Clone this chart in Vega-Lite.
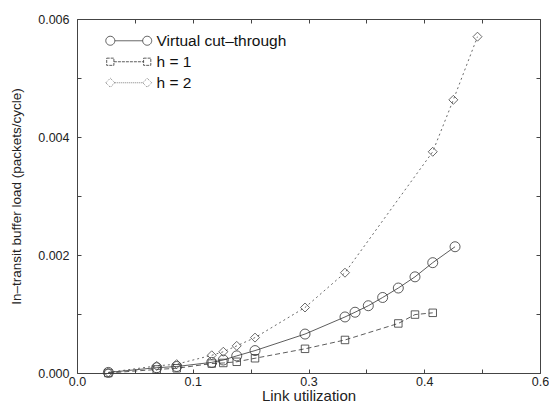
{
  "$schema": "https://vega.github.io/schema/vega-lite/v6.json",
  "width": 463,
  "height": 354,
  "autosize": {"type": "none"},
  "padding": {"left": 77, "top": 19, "right": 9, "bottom": 32},
  "background": "white",
  "config": {
    "view": {"stroke": "#444", "strokeWidth": 1},
    "font": "Liberation Sans",
    "axis": {"grid": false, "domain": false, "tickColor": "#444", "tickSize": -4, "labelFlush": false, "labelColor": "#222", "titleColor": "#222", "labelFont": "Liberation Sans", "titleFont": "Liberation Sans", "titleFontWeight": "normal"}
  },
  "data": {
    "values": [
      {"s": "Virtual cut–through", "x": 0.0406, "y": 0.00001},
      {"s": "Virtual cut–through", "x": 0.1033, "y": 0.00009},
      {"s": "Virtual cut–through", "x": 0.1292, "y": 0.00011},
      {"s": "Virtual cut–through", "x": 0.1746, "y": 0.00018},
      {"s": "Virtual cut–through", "x": 0.1896, "y": 0.00022},
      {"s": "Virtual cut–through", "x": 0.207, "y": 0.00029},
      {"s": "Virtual cut–through", "x": 0.2307, "y": 0.00038},
      {"s": "Virtual cut–through", "x": 0.2955, "y": 0.00066},
      {"s": "Virtual cut–through", "x": 0.3473, "y": 0.00095},
      {"s": "Virtual cut–through", "x": 0.3603, "y": 0.00103},
      {"s": "Virtual cut–through", "x": 0.3775, "y": 0.00114},
      {"s": "Virtual cut–through", "x": 0.3961, "y": 0.00128},
      {"s": "Virtual cut–through", "x": 0.4164, "y": 0.00144},
      {"s": "Virtual cut–through", "x": 0.438, "y": 0.00163},
      {"s": "Virtual cut–through", "x": 0.461, "y": 0.00187},
      {"s": "Virtual cut–through", "x": 0.4899, "y": 0.00214},
      {"s": "h = 1", "x": 0.0406, "y": 0.0},
      {"s": "h = 1", "x": 0.1033, "y": 0.00006},
      {"s": "h = 1", "x": 0.1292, "y": 0.00008},
      {"s": "h = 1", "x": 0.1746, "y": 0.00016},
      {"s": "h = 1", "x": 0.1896, "y": 0.00017},
      {"s": "h = 1", "x": 0.207, "y": 0.00019},
      {"s": "h = 1", "x": 0.2307, "y": 0.00025},
      {"s": "h = 1", "x": 0.2955, "y": 0.00041},
      {"s": "h = 1", "x": 0.3473, "y": 0.00056},
      {"s": "h = 1", "x": 0.4164, "y": 0.00084},
      {"s": "h = 1", "x": 0.438, "y": 0.00099},
      {"s": "h = 1", "x": 0.461, "y": 0.00102},
      {"s": "h = 2", "x": 0.0406, "y": 0.00001},
      {"s": "h = 2", "x": 0.1033, "y": 0.00012},
      {"s": "h = 2", "x": 0.1292, "y": 0.00015},
      {"s": "h = 2", "x": 0.1746, "y": 0.0003},
      {"s": "h = 2", "x": 0.1896, "y": 0.00036},
      {"s": "h = 2", "x": 0.207, "y": 0.00046},
      {"s": "h = 2", "x": 0.2307, "y": 0.0006},
      {"s": "h = 2", "x": 0.2955, "y": 0.00111},
      {"s": "h = 2", "x": 0.3473, "y": 0.0017},
      {"s": "h = 2", "x": 0.461, "y": 0.00375},
      {"s": "h = 2", "x": 0.4877, "y": 0.00463},
      {"s": "h = 2", "x": 0.519, "y": 0.0057}
    ]
  },
  "layer": [
    {
      "transform": [{"filter": "datum.s == 'Virtual cut–through'"}],
      "mark": {"type": "line", "stroke": "#333", "strokeWidth": 0.8},
      "encoding": {
        "x": {"field": "x", "type": "quantitative", "scale": {"domain": [0, 0.6], "nice": false},
          "axis": {"orient": "bottom", "values": [0, 0.075, 0.15, 0.225, 0.3, 0.375, 0.45, 0.525, 0.6],
            "labelExpr": "datum.value == 0 ? '0.0' : datum.value == 0.15 ? '0.1' : datum.value == 0.3 ? '0.3' : datum.value == 0.45 ? '0.4' : datum.value == 0.6 ? '0.6' : ''",
            "labelFontSize": 12.5, "labelPadding": 6, "title": "Link utilization", "titleFontSize": 15, "titlePadding": 1}},
        "y": {"field": "y", "type": "quantitative", "scale": {"domain": [0, 0.006], "nice": false},
          "axis": {"orient": "left", "values": [0, 0.001, 0.002, 0.003, 0.004, 0.005, 0.006],
            "labelExpr": "indexof([0, 0.002, 0.004, 0.006], datum.value) >= 0 ? format(datum.value, '.3f') : ''",
            "labelFontSize": 12.5, "labelPadding": 12, "title": "In–transit buffer load (packets/cycle)", "titleFontSize": 13.5, "titlePadding": 14}}
      }
    },
    {
      "transform": [{"filter": "datum.s == 'h = 1'"}],
      "mark": {"type": "line", "stroke": "#333", "strokeWidth": 0.8, "strokeDash": [5, 3]},
      "encoding": {
        "x": {"field": "x", "type": "quantitative", "axis": null},
        "y": {"field": "y", "type": "quantitative", "axis": null}
      }
    },
    {
      "transform": [{"filter": "datum.s == 'h = 2'"}],
      "mark": {"type": "line", "stroke": "#444", "strokeWidth": 0.8, "strokeDash": [2, 3]},
      "encoding": {
        "x": {"field": "x", "type": "quantitative", "axis": null},
        "y": {"field": "y", "type": "quantitative", "axis": null}
      }
    },
    {
      "transform": [{"filter": "datum.s == 'Virtual cut–through'"}],
      "mark": {"type": "point", "shape": "circle", "filled": false, "stroke": "#333", "strokeWidth": 0.8, "opacity": 1, "size": 100},
      "encoding": {
        "x": {"field": "x", "type": "quantitative",
          "axis": {"orient": "top", "values": [0, 0.075, 0.15, 0.225, 0.3, 0.375, 0.45, 0.525, 0.6], "labels": false, "title": null}},
        "y": {"field": "y", "type": "quantitative",
          "axis": {"orient": "right", "values": [0, 0.001, 0.002, 0.003, 0.004, 0.005, 0.006], "labels": false, "title": null}}
      }
    },
    {
      "transform": [{"filter": "datum.s == 'h = 1'"}],
      "mark": {"type": "point", "shape": "square", "filled": false, "stroke": "#333", "strokeWidth": 0.8, "opacity": 1, "size": 56},
      "encoding": {
        "x": {"field": "x", "type": "quantitative", "axis": null},
        "y": {"field": "y", "type": "quantitative", "axis": null}
      }
    },
    {
      "transform": [{"filter": "datum.s == 'h = 2'"}],
      "mark": {"type": "point", "shape": "diamond", "filled": false, "stroke": "#444", "strokeWidth": 0.8, "opacity": 1, "size": 81},
      "encoding": {
        "x": {"field": "x", "type": "quantitative", "axis": null},
        "y": {"field": "y", "type": "quantitative", "axis": null}
      }
    },
    {
      "transform": [{"filter": "false"}],
      "mark": {"type": "point", "filled": false, "stroke": "#333", "strokeWidth": 0.8, "opacity": 1},
      "encoding": {
        "shape": {"field": "s", "type": "nominal",
          "scale": {"domain": ["Virtual cut–through", "h = 1", "h = 2"],
            "range": [
              "M-5.1,0 a1,1 0 1,0 2,0 a1,1 0 1,0 -2,0 M-3.1,0 L3.1,0 M3.1,0 a1,1 0 1,0 2,0 a1,1 0 1,0 -2,0",
              "M-4.9,-0.8 h1.6 v1.6 h-1.6 Z M-3.3,0 L3.3,0 M3.3,-0.8 h1.6 v1.6 h-1.6 Z",
              "M-5.1,0 L-4.1,-1 L-3.1,0 L-4.1,1 Z M-3.1,0 L3.1,0 M3.1,0 L4.1,-1 L5.1,0 L4.1,1 Z"
            ]},
          "legend": {
            "title": null, "orient": "none", "legendX": 10, "legendY": 14, "padding": 0,
            "labelFont": "Liberation Sans", "labelFontSize": 15.5, "labelColor": "#111",
            "symbolSize": 81, "symbolStrokeColor": "#333", "symbolFillColor": "white", "symbolStrokeWidth": 0.8,
            "symbolOffset": 34, "labelOffset": 20, "rowPadding": 4
          }},
        "strokeDash": {"field": "s", "type": "nominal",
          "scale": {"domain": ["Virtual cut–through", "h = 1", "h = 2"], "range": [[1, 0], [3, 1], [0.8, 1.2]]}}
      }
    }
  ],
  "resolve": {"axis": {"x": "independent", "y": "independent"}}
}
